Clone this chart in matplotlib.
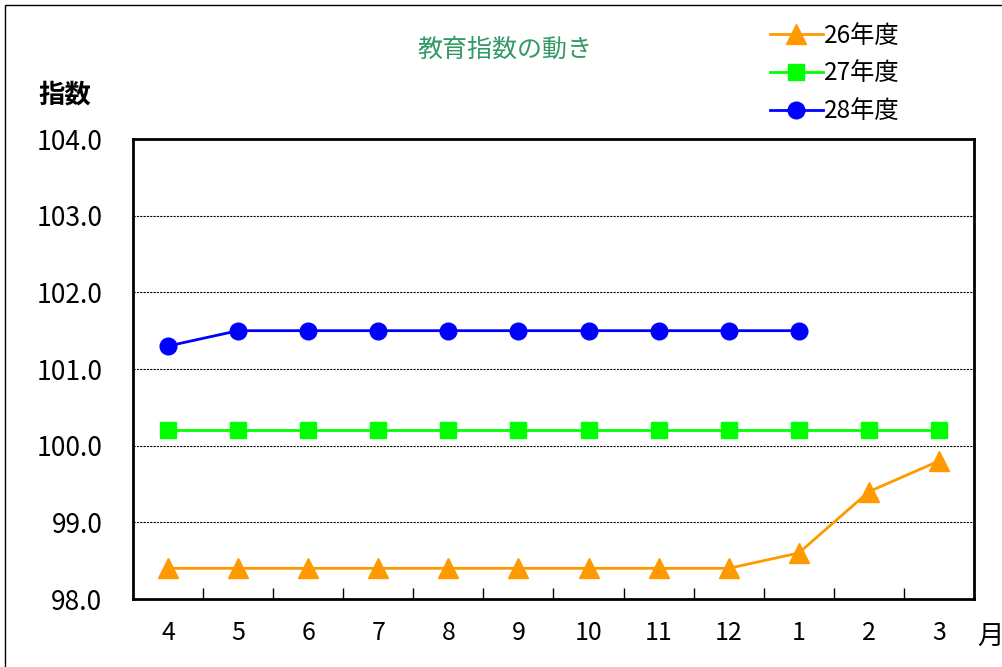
import matplotlib
matplotlib.use("Agg")
import matplotlib.pyplot as plt
from matplotlib.patches import Rectangle
from matplotlib.ticker import FixedLocator, NullFormatter

plt.rcParams['font.family'] = ['Noto Sans CJK JP', 'DejaVu Sans']

months = ['4', '5', '6', '7', '8', '9', '10', '11', '12', '1', '2', '3']
fy26 = [98.4, 98.4, 98.4, 98.4, 98.4, 98.4, 98.4, 98.4, 98.4, 98.6, 99.4, 99.8]
fy27 = [100.2, 100.2, 100.2, 100.2, 100.2, 100.2, 100.2, 100.2, 100.2, 100.2, 100.2, 100.2]
fy28 = [101.3, 101.5, 101.5, 101.5, 101.5, 101.5, 101.5, 101.5, 101.5, 101.5]
yticks = [98.0, 99.0, 100.0, 101.0, 102.0, 103.0, 104.0]
labels = ['26年度', '27年度', '28年度']

W, H = 1003, 667
fig = plt.figure(figsize=(W / 100, H / 100), dpi=100)
ax = fig.add_axes([133 / W, 1 - 599 / H, (974 - 133) / W, (599 - 139) / H])

x = list(range(len(months)))
l1, = ax.plot(x[:len(fy26)], fy26, color='#FF9900', lw=2, marker='^', ms=14, mec='#FF9900', mfc='#FF9900', zorder=3)
l2, = ax.plot(x[:len(fy27)], fy27, color='#00FF00', lw=2, marker='s', ms=12, mec='#00FF00', mfc='#00FF00', zorder=3)
l3, = ax.plot(x[:len(fy28)], fy28, color='#0000FF', lw=2, marker='o', ms=12, mec='#0000FF', mfc='#0000FF', zorder=3)

ax.set_xlim(-0.5, len(months) - 0.5)
ax.set_ylim(98, 104)
ax.set_yticks(yticks)
ax.set_yticklabels([f'{v:.1f}' for v in yticks], fontsize=19)
ax.tick_params(axis='y', length=0, pad=22)
for v in yticks[1:-1]:
    ax.axhline(v, color='black', lw=0.8, ls=(0, (2, 1)), zorder=1)

ax.set_xticks(x)
ax.set_xticklabels(months, fontsize=18)
ax.tick_params(axis='x', which='major', length=0, pad=15)
ax.xaxis.set_minor_locator(FixedLocator([i + 0.5 for i in range(len(months) - 1)]))
ax.xaxis.set_minor_formatter(NullFormatter())
ax.tick_params(axis='x', which='minor', direction='in', length=8, width=1, color='black')

for s in ax.spines.values():
    s.set_linewidth(2)
    s.set_color('black')

fig.text(505 / W, 1 - 50 / H, '教育指数の動き', color='#339966', fontsize=18, ha='center', va='center')
fig.text(38 / W, 1 - 95 / H, '指数', fontsize=19, fontweight='bold', ha='left', va='center')
fig.text(977 / W, 1 - 637 / H, '月', fontsize=19, ha='left', va='center')

leg = fig.legend([l1, l2, l3], labels, loc='upper left', bbox_to_anchor=(760 / W, 1 - 13 / H),
                 frameon=False, fontsize=17.5, handlelength=2.2, handletextpad=0.05, labelspacing=0.48,
                 borderaxespad=0)

fig.patches.append(Rectangle((5 / W, -0.1), 1.2, 1 - 5 / H + 0.1, transform=fig.transFigure,
                             fill=False, edgecolor='black', lw=1))

fig.savefig('out.png', dpi=100)
